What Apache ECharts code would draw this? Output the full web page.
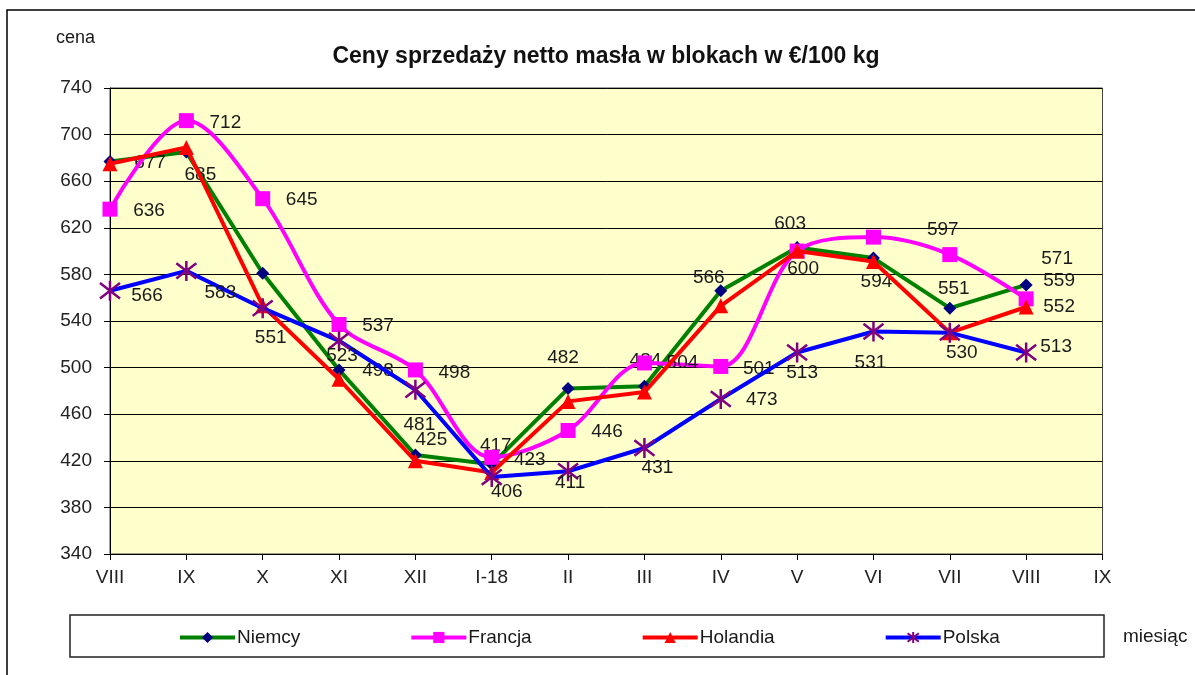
<!DOCTYPE html>
<html>
<head>
<meta charset="utf-8">
<script src="https://cdn.jsdelivr.net/npm/echarts@6/dist/echarts.min.js"></script>
<style>
html,body{margin:0;padding:0;background:#fff;}
#chart{width:1195px;height:675px;}
</style>
</head>
<body>
<div id="chart"></div>
<script>
// ---- data ----
const categories = ['VIII','IX','X','XI','XII','I-18','II','III','IV','V','VI','VII','VIII','IX'];
const niemcy   = [677, 685, 581, 498, 425, 417, 482, 484, 566, 603, 594, 551, 571];
const francja  = [636, 712, 645, 537, 498, 423, 446, 504, 501, 600, 612, 597, 559];
const holandia = [675, 689, 553, 490, 420, 410, 471, 479, 553, 600, 591, 530, 552];
const polska   = [566, 583, 551, 523, 481, 406, 411, 431, 473, 513, 531, 530, 513];
const yTicks = {min: 340, max: 740, interval: 40};

// label offsets (null = no label shown)
const niemcyLab = [[40,1],[14,23],null,[39,1],[16,-15],[4,-19],[-5,-31],[1,-25],[-12,-13],[-7,-24],[3,24],[4,-19],[31,-26]];
const francjaLab = [[39,2],[39,2],[39,1],[39,1],[39,3],[38,2],[39,1],[38,0],[38,2],[6,18],null,[-7,-25],[33,-18]];
const holandiaLab = [null,null,null,null,null,null,null,null,null,null,null,null,[33,0]];
const polskaLab = [[37,5],[34,22],[8,30],[3,15],[4,35],[15,15],[2,11],[13,20],[41,1],[5,20],[-3,31],[12,20],[30,-6]];

const FONT = '"Liberation Sans", Arial, sans-serif';

function buildData(vals, labs) {
  return vals.map((v, i) => {
    const o = labs[i];
    if (!o) return {value: v, label: {show: false}};
    return {value: v, label: {show: true, position: 'inside', offset: o}};
  });
}
const baseLabel = {show: true, position: 'inside', fontSize: 19, color: '#1a1a1a', fontFamily: FONT};

const asterisk = 'path://M0,0L10,10M10,0L0,10M5,-1.5L5,11.5';

const chart = echarts.init(document.getElementById('chart'), null, {renderer: 'canvas'});
chart.setOption({
  animation: false,
  backgroundColor: '#fff',
  textStyle: {fontFamily: FONT},
  title: {
    text: 'Ceny sprzedaży netto masła w blokach w €/100 kg',
    left: 601, top: 40, textAlign: 'center',
    textStyle: {fontSize: 23, fontWeight: 'bold', color: '#111', fontFamily: FONT}
  },
  graphic: [
    {type: 'rect', shape: {x: 7, y: 10, width: 1300, height: 800}, style: {fill: 'none', stroke: '#000', lineWidth: 1.5}, silent: true, z: -10},
    {type: 'rect', shape: {x: 70, y: 615, width: 1034, height: 42}, style: {fill: '#fff', stroke: '#222', lineWidth: 1.5}, silent: true, z: -5},
    {type: 'text', x: 56, y: 29, style: {text: 'cena', fontSize: 18, fill: '#1a1a1a', fontFamily: FONT}},
    {type: 'text', x: 1123, y: 627, style: {text: 'miesiąc', fontSize: 19, fill: '#1a1a1a', fontFamily: FONT}}
  ],
  legend: {
    left: 178, top: 628, padding: 0,
    itemWidth: 55, itemHeight: 14, itemGap: 109,
    lineStyle: {width: 4},
    textStyle: {fontSize: 19, color: '#1a1a1a', fontFamily: FONT, padding: [0,0,0,-3]},
    data: ['Niemcy','Francja','Holandia','Polska']
  },
  grid: {
    left: 110, right: 92.5, top: 88, bottom: 121,
    show: true, backgroundColor: '#FFFFCC', borderColor: '#444', borderWidth: 1
  },
  xAxis: {
    type: 'category', data: categories, boundaryGap: false,
    axisLine: {lineStyle: {color: '#000', width: 1}},
    axisTick: {show: true, length: 6, lineStyle: {color: '#000'}},
    axisLabel: {fontSize: 19, color: '#222', margin: 14, fontFamily: FONT, interval: 0},
    splitLine: {show: false}
  },
  yAxis: {
    type: 'value', min: yTicks.min, max: yTicks.max, interval: yTicks.interval,
    axisLine: {show: true, lineStyle: {color: '#000', width: 1}},
    axisTick: {show: true, length: 6, lineStyle: {color: '#000'}},
    axisLabel: {fontSize: 19, color: '#222', margin: 18, fontFamily: FONT},
    splitLine: {show: true, lineStyle: {color: '#000', width: 1}}
  },
  series: [
    {
      name: 'Niemcy', type: 'line', data: buildData(niemcy, niemcyLab),
      symbol: 'diamond', symbolSize: 13, showAllSymbol: true,
      lineStyle: {color: '#008000', width: 4},
      itemStyle: {color: '#000080'},
      label: baseLabel, z: 2
    },
    {
      name: 'Francja', type: 'line', data: buildData(francja, francjaLab),
      symbol: 'rect', symbolSize: 15, smooth: 0.33, showAllSymbol: true,
      lineStyle: {color: '#FF00FF', width: 4},
      itemStyle: {color: '#FF00FF'},
      label: baseLabel, z: 3
    },
    {
      name: 'Holandia', type: 'line', data: buildData(holandia, holandiaLab),
      symbol: 'triangle', symbolSize: 15, showAllSymbol: true,
      lineStyle: {color: '#FF0000', width: 4},
      itemStyle: {color: '#FF0000'},
      label: baseLabel, z: 4
    },
    {
      name: 'Polska', type: 'line', data: buildData(polska, polskaLab),
      symbol: asterisk, symbolSize: 20, showAllSymbol: true,
      lineStyle: {color: '#0000FF', width: 4},
      itemStyle: {color: '#800080', borderColor: '#800080', borderWidth: 2.5},
      label: baseLabel, z: 5
    }
  ]
});
</script>
</body>
</html>
